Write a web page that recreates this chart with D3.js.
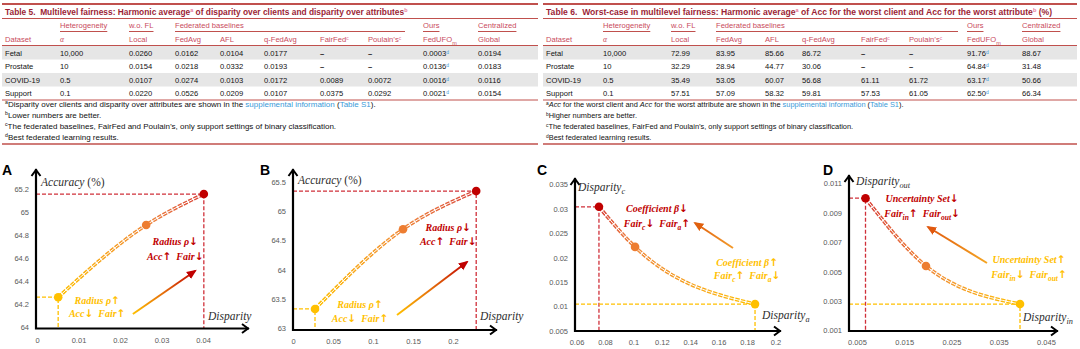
<!DOCTYPE html>
<html>
<head>
<meta charset="utf-8">
<script src="https://cdn.jsdelivr.net/npm/d3@7"></script>
<style>
  body { margin: 0; background: #fff; }
  svg { display: block; }
  text { white-space: pre; }
</style>
</head>
<body>
<svg id="fig" width="1080" height="349"></svg>
<script>
// ---- table data ----
const datasets = ["Fetal", "Prostate", "COVID-19", "Support"]
const alphas = ["10,000", "10", "0.5", "0.1"]
const headCols = ["Dataset", "α", "Local", "FedAvg", "AFL", "q-FedAvg", "FairFed", "Poulain’s", "FedUFO", "Global"]
const headGroups = ["Heterogeneity", "w.o. FL", "Federated baselines", "Ours", "Centralized"]
const groupCols = ["α", "Local", "FedAvg", "FedUFO", "Global"]

const t5Values = [
  ["0.0260", "0.0162", "0.0104", "0.0177", "–", "–", "0.0003", "0.0194"],
  ["0.0154", "0.0218", "0.0332", "0.0193", "–", "–", "0.0136", "0.0183"],
  ["0.0107", "0.0274", "0.0103", "0.0172", "0.0089", "0.0072", "0.0016", "0.0116"],
  ["0.0220", "0.0526", "0.0209", "0.0107", "0.0375", "0.0292", "0.0021", "0.0154"]
]
const t6Values = [
  ["72.99", "83.95", "85.66", "86.72", "–", "–", "91.76", "88.67"],
  ["32.29", "28.94", "44.77", "30.06", "–", "–", "64.84", "31.48"],
  ["35.49", "53.05", "60.07", "56.68", "61.11", "61.72", "63.17", "50.66"],
  ["57.51", "57.09", "58.32", "59.81", "57.53", "61.05", "62.50", "66.34"]
]

const t5Title = [["Table 5.", "b"], "  Multilevel fairness: Harmonic average", ["a", "sup pink"], " of disparity over clients and disparity over attributes", ["b", "sup pink"]]
const t6Title = [["Table 6.", "b"], "  Worst-case in multilevel fairness: Harmonic average", ["a", "sup pink"], " of Acc for the worst client and Acc for the worst attribute", ["b", "sup pink"], " (%)"]

const t5Notes = [
  [["a", "sup"], "Disparity over clients and disparity over attributes are shown in the ", ["supplemental information", "blue"], " (", ["Table S1", "blue"], ")."],
  [["b", "sup"], "Lower numbers are better."],
  [["c", "sup"], "The federated baselines, FairFed and Poulain’s, only support settings of binary classification."],
  [["d", "sup"], "Best federated learning results."]
]
const t6Notes = [
  [["a", "sup"], ["Acc", "ital"], " for the worst client and ", ["Acc", "ital"], " for the worst attribute are shown in the ", ["supplemental information", "blue"], " (", ["Table S1", "blue"], ")."],
  [["b", "sup"], "Higher numbers are better."],
  [["c", "sup"], "The federated baselines, FairFed and Poulain’s, only support settings of binary classification."],
  [["d", "sup"], "Best federated learning results."]
]

// ---- chart data ----
const dispA = [0.0051, 0.0263, 0.0402]
const accA = [64.26, 64.89, 65.16]
const dispB = [0.0275, 0.1375, 0.229]
const accB = [63.33, 64.69, 65.34]
const dispCa = [0.0758, 0.1012, 0.1856]
const dispCc = [0.0304, 0.0222, 0.0105]
const dispDin = [0.0068, 0.0196, 0.0395]
const dispDout = [0.0100, 0.00539, 0.0028]

const xTicksA = [0, 0.01, 0.02, 0.03, 0.04]
const yTicksA = [64, 64.2, 64.4, 64.6, 64.8, 65, 65.2]
const xTicksB = [0, 0.05, 0.1, 0.15, 0.2]
const yTicksB = [63, 63.5, 64, 64.5, 65, 65.5]
const xTicksC = [0.06, 0.08, 0.1, 0.12, 0.14, 0.16, 0.18, 0.2]
const yTicksC = [0.005, 0.01, 0.015, 0.02, 0.025, 0.03, 0.035]
const xTicksD = [0.005, 0.015, 0.025, 0.035, 0.045]
const yTicksD = [0.001, 0.003, 0.005, 0.007, 0.009, 0.011]

const RULE = "#c0504d", HEAD = "#c94a5c", TITLE = "#9c1f36"
const YEL = "#ffc000", ORA = "#ed7d31", RED = "#c00000"
const SANS = "'Liberation Sans', Arial, sans-serif"
const SERIF = "'Liberation Serif', 'Times New Roman', serif"

const svg = d3.select("#fig")
const defs = svg.append("defs")

function rich(t, parts) {
  parts.forEach(p => {
    const [s, k] = typeof p === "string" ? [p, ""] : p
    const ts = t.append("tspan").text(s)
    if (k.includes("sup")) ts.attr("baseline-shift", "super").attr("font-size", "0.65em")
    if (k.includes("sub")) ts.attr("baseline-shift", "-3").attr("font-size", "0.72em")
    if (k.includes("pink")) ts.attr("fill", "#e8799c")
    if (k.includes("blue")) ts.attr("fill", "#3a9bd9")
    if (k.includes("ital")) ts.attr("font-style", "italic")
    if (k === "b") ts.attr("font-weight", "bold")
  })
  return t
}

function fitWidth(t, w) {
  const n = t.node().getComputedTextLength()
  const fs = parseFloat(t.attr("font-size"))
  t.attr("font-size", fs * w / n)
  return fs * w / n
}

function drawTable(cfg) {
  const g = svg.append("g")
  const L = cfg.left, R = cfg.right
  const colX = d3.scaleOrdinal().domain(headCols).range(cfg.cols)
  const rowY = d3.scaleBand().domain(datasets).range([46, 100])
  const fs = 7.6

  g.selectAll("rect.stripe")
    .data(datasets.filter((d, i) => i % 2 === 0))
    .join("rect")
    .attr("x", L).attr("width", R - L)
    .attr("y", d => rowY(d)).attr("height", rowY.bandwidth())
    .attr("fill", "#e6e6e6")

  const rules = [{y: 4, w: 2}, {y: 18.5, w: 1}, {y: 45.5, w: 1}, {y: 100, w: 1}, {y: 144, w: 1.6}]
  g.selectAll("line.rule").data(rules).join("line")
    .attr("x1", L).attr("x2", R).attr("y1", d => d.y).attr("y2", d => d.y)
    .attr("stroke", RULE).attr("stroke-width", d => d.w)

  const title = rich(g.append("text").attr("x", L + 3).attr("y", 15)
    .attr("font-family", SANS).attr("font-size", 8).attr("font-weight", "bold")
    .attr("fill", TITLE), cfg.title)
  fitWidth(title, cfg.titleW)

  // group headers with underlines
  headGroups.forEach((label, i) => {
    const x = colX(groupCols[i])
    const t = g.append("text").attr("x", x).attr("y", 28)
      .attr("font-family", SANS).attr("font-size", fs).attr("fill", HEAD).text(label)
    let x2 = x + t.node().getComputedTextLength()
    if (label === "Federated baselines") x2 = colX("FedUFO") - cfg.fedGap
    g.append("line").attr("x1", x).attr("x2", x2).attr("y1", 31.5).attr("y2", 31.5)
      .attr("stroke", RULE).attr("stroke-width", 1)
  })

  headCols.forEach(c => {
    const t = g.append("text").attr("x", colX(c)).attr("y", 42)
      .attr("font-family", SANS).attr("font-size", fs).attr("fill", HEAD)
    if (c === "FairFed" || c === "Poulain’s") rich(t, [c, ["c", "sup pink"]])
    else if (c === "FedUFO") rich(t, [c, ["m", "sub"]])
    else if (c === "α") t.attr("font-family", SERIF).attr("font-style", "italic").text(c)
    else t.text(c)
  })

  datasets.forEach((d, r) => {
    const cells = [d, alphas[r]].concat(cfg.values[r])
    cells.forEach((v, j) => {
      const t = g.append("text").attr("x", colX(headCols[j]))
        .attr("y", rowY(d) + rowY.bandwidth() / 2 + 2.8)
        .attr("font-family", SANS).attr("font-size", fs).attr("fill", "#111")
      if (headCols[j] === "FedUFO") rich(t, [v, ["d", "sup blue"]])
      else if (v === "–") t.attr("font-weight", "bold").text(v)
      else t.text(v)
    })
  })

  let nfs = 7
  cfg.notes.forEach((n, i) => {
    const t = rich(g.append("text").attr("x", L + 3).attr("y", 107 + i * 11)
      .attr("font-family", SANS).attr("font-size", nfs).attr("fill", "#111"), n)
    if (i === 0) nfs = fitWidth(t, cfg.noteW)
  })
}

drawTable({left: 2, right: 538, cols: [5, 60, 129, 175, 220, 264, 320, 368, 423, 478],
  title: t5Title, titleW: 403, values: t5Values, notes: t5Notes, noteW: 371, fedGap: 18})
drawTable({left: 543, right: 1077, cols: [546, 603, 671, 716, 765, 802, 861, 909, 967, 1022],
  title: t6Title, titleW: 507, values: t6Values, notes: t6Notes, noteW: 358, fedGap: 9})

// ---- charts ----
const panels = [
  {id: "A", xs: dispA, ys: accA, roles: [YEL, ORA, RED], xTicks: xTicksA, yTicks: yTicksA,
   xr: [37, 203], yr: [327, 189.5], axisX: 36, axisY: 328.5, xEnd: 249, yTop: 169, letter: [2, 175],
   ylab: {x: 41, y: 186, parts: [["Accuracy", "ital"], " (%)"]},
   xlab: {x: 208, y: 320, parts: [["Disparity", "ital"]]},
   red: {x: 0.0333, y: 64.72, lines: ["Radius ρ↓", "Acc↑  Fair↓"], dy: 15},
   yel: {x: 0.0145, y: 64.20, lines: ["Radius ρ↑", "Acc↓  Fair↑"], dy: 13},
   arrow: [[0.0231, 64.113], [0.0381, 64.489]], arrowCols: [YEL, RED]},
  {id: "B", xs: dispB, ys: accB, roles: [YEL, ORA, RED], xTicks: xTicksB, yTicks: yTicksB,
   xr: [293, 453], yr: [328.3, 181.7], axisX: 293, axisY: 330, xEnd: 497, yTop: 169, letter: [260, 175],
   ylab: {x: 298, y: 184, parts: [["Accuracy", "ital"], " (%)"]},
   xlab: {x: 480, y: 320, parts: [["Disparity", "ital"]]},
   red: {x: 0.194, y: 64.66, lines: ["Radius ρ↓", "Acc↑  Fair↓"], dy: 14},
   yel: {x: 0.0838, y: 63.35, lines: ["Radius ρ↑", "Acc↓  Fair↑"], dy: 14},
   arrow: [[0.13, 63.227], [0.2175, 64.131]], arrowCols: [YEL, RED]},
  {id: "C", xs: dispCa, ys: dispCc, roles: [RED, ORA, YEL], xTicks: xTicksC, yTicks: yTicksC,
   xr: [576.5, 775.5], yr: [331, 184.3], axisX: 575, axisY: 331, xEnd: 781, yTop: 178, letter: [537, 175],
   ylab: {x: 578, y: 191, parts: [["Disparity", "ital"], ["c", "ital sub"]]},
   xlab: {x: 762, y: 319, parts: [["Disparity", "ital"], ["a", "ital sub"]]},
   red: {x: 0.1166, y: 0.02934, lines: ["Coefficient β↓", "Fair_{c}↓  Fair_{a}↑"], dy: 15},
   yel: {x: 0.18, y: 0.01829, lines: ["Coefficient β↑", "Fair_{c}↑  Fair_{a}↓"], dy: 13},
   arrow: [[0.1701, 0.02197], [0.1434, 0.02709]], arrowCols: ["#f39a2a", "#e0600e"]},
  {id: "D", xs: dispDin, ys: dispDout, roles: [RED, ORA, YEL], xTicks: xTicksD, yTicks: yTicksD,
   xr: [857, 1046], yr: [330.5, 183.5], axisX: 849, axisY: 331, xEnd: 1058, yTop: 175, letter: [823, 175],
   ylab: {x: 856, y: 185, parts: [["Disparity", "ital"], ["out", "ital sub"]]},
   xlab: {x: 1023, y: 321, parts: [["Disparity", "ital"], ["in", "ital sub"]]},
   red: {x: 0.01876, y: 0.00974, lines: ["Uncertainty Set↓", "Fair_{in}↑  Fair_{out}↓"], dy: 15},
   yel: {x: 0.0414, y: 0.00559, lines: ["Uncertainty Set↑", "Fair_{in}↓  Fair_{out}↑"], dy: 15},
   arrow: [[0.03251, 0.005592], [0.02003, 0.008041]], arrowCols: ["#f5a623", "#e0580e"]}
]

const fmt = d => String(+d.toFixed(4))

// text with _{sub} markup; arrows drawn in a heavier sans face
function subText(t, str) {
  str.split(/(_\{[^}]*\}|[↑↓])/).forEach(s => {
    if (!s) return
    if (s.startsWith("_{")) {
      t.append("tspan").text(s.slice(2, -1)).attr("baseline-shift", "-2.5").attr("font-size", "0.75em")
    } else if (s === "↑" || s === "↓") {
      t.append("tspan").text(s).attr("font-family", "'DejaVu Sans', sans-serif")
        .attr("font-style", "normal").attr("font-size", "1.05em")
    } else t.append("tspan").text(s)
  })
}

function arrowMarker(id, color) {
  defs.append("marker").attr("id", id).attr("viewBox", "0 0 10 10")
    .attr("refX", 8).attr("refY", 5).attr("markerUnits", "userSpaceOnUse")
    .attr("markerWidth", 10).attr("markerHeight", 10).attr("orient", "auto")
    .append("path").attr("d", "M0,0.8 L10,5 L0,9.2 Z").attr("fill", color)
}

panels.forEach(p => {
  const g = svg.append("g")
  const x = d3.scaleLinear().domain(d3.extent(p.xTicks)).range(p.xr)
  const y = d3.scaleLinear().domain(d3.extent(p.yTicks)).range(p.yr)
  const pts = p.xs.map((v, i) => ({x: v, y: p.ys[i], c: p.roles[i]}))

  // tick labels through d3 axes, no domain or tick lines
  g.append("g").attr("transform", `translate(${p.axisX - 7},0)`)
    .call(d3.axisLeft(y).tickValues(p.yTicks).tickSize(0).tickFormat(fmt))
    .call(a => a.select(".domain").remove())
    .selectAll("text").attr("font-family", SANS).attr("font-size", 7.5).attr("fill", "#595959").attr("x", 0)
  g.append("g").attr("transform", `translate(0,${p.axisY + 6})`)
    .call(d3.axisBottom(x).tickValues(p.xTicks).tickSize(0).tickFormat(fmt))
    .call(a => a.select(".domain").remove())
    .selectAll("text").attr("font-family", SANS).attr("font-size", 7.5).attr("fill", "#595959")

  // guide lines to the extreme points
  const guide = [pts.find(d => d.c === RED), pts.find(d => d.c === YEL)]
  guide.forEach(d => {
    g.append("path")
      .attr("d", `M${p.axisX},${y(d.y)}H${x(d.x)}V${p.axisY}`)
      .attr("fill", "none").attr("stroke", d.c === RED ? "#d0303a" : "#ffc000")
      .attr("stroke-width", 1.3).attr("stroke-dasharray", "4,2")
  })

  // axes with open arrow heads
  g.append("path").attr("d", `M${p.axisX},${p.axisY + 1}V${p.yTop} M${p.axisX - 1},${p.axisY}H${p.xEnd}`)
    .attr("stroke", "#000").attr("stroke-width", 2.2).attr("fill", "none")
  g.append("path")
    .attr("d", `M${p.axisX - 4.5},${p.yTop + 7}L${p.axisX},${p.yTop + 1}L${p.axisX + 4.5},${p.yTop + 7}` +
               `M${p.xEnd - 7},${p.axisY - 4.5}L${p.xEnd - 1},${p.axisY}L${p.xEnd - 7},${p.axisY + 4.5}`)
    .attr("stroke", "#000").attr("stroke-width", 2).attr("fill", "none")

  // gradient curve
  const x0 = x(pts[0].x), x1 = x(pts[pts.length - 1].x)
  const grad = defs.append("linearGradient").attr("id", "curve" + p.id)
    .attr("gradientUnits", "userSpaceOnUse").attr("x1", x0).attr("x2", x1).attr("y1", 0).attr("y2", 0)
  const curveCol = {[YEL]: "#ffc000", [ORA]: "#f08a3c", [RED]: "#d8403a"}
  pts.forEach(d => grad.append("stop").attr("offset", (x(d.x) - x0) / (x1 - x0)).attr("stop-color", curveCol[d.c]))
  const line = d3.line().x(d => x(d.x)).y(d => y(d.y)).curve(d3.curveMonotoneX)
  g.append("path").attr("d", line(pts)).attr("fill", "none")
    .attr("stroke", `url(#curve${p.id})`).attr("stroke-width", 3.6).attr("stroke-dasharray", "4.5,1.3")
  g.append("path").attr("d", line(pts)).attr("fill", "none")
    .attr("stroke", "#fff").attr("stroke-width", 1)

  g.selectAll("circle").data(pts).join("circle")
    .attr("cx", d => x(d.x)).attr("cy", d => y(d.y)).attr("r", 4.3).attr("fill", d => d.c)

  // trend arrow
  const ag = defs.append("linearGradient").attr("id", "arr" + p.id).attr("gradientUnits", "userSpaceOnUse")
    .attr("x1", x(p.arrow[0][0])).attr("y1", y(p.arrow[0][1]))
    .attr("x2", x(p.arrow[1][0])).attr("y2", y(p.arrow[1][1]))
  ag.append("stop").attr("offset", 0).attr("stop-color", p.arrowCols[0])
  if (p.arrowCols[1] === RED) ag.append("stop").attr("offset", 0.5).attr("stop-color", "#e46c0a")
  ag.append("stop").attr("offset", 1).attr("stop-color", p.arrowCols[1])
  arrowMarker("head" + p.id, p.arrowCols[1])
  g.append("line")
    .attr("x1", x(p.arrow[0][0])).attr("y1", y(p.arrow[0][1]))
    .attr("x2", x(p.arrow[1][0])).attr("y2", y(p.arrow[1][1]))
    .attr("stroke", `url(#arr${p.id})`).attr("stroke-width", 2)
    .attr("marker-end", `url(#head${p.id})`)

  // annotations
  ;[["red", "#c00000"], ["yel", "#ffc000"]].forEach(([k, col]) => {
    const a = p[k]
    a.lines.forEach((s, i) => {
      const t = g.append("text").attr("x", x(a.x)).attr("y", y(a.y) + i * a.dy)
        .attr("text-anchor", "middle").attr("font-family", SERIF).attr("font-style", "italic")
        .attr("font-weight", "bold").attr("font-size", 10).attr("fill", col)
      subText(t, s)
    })
  })

  // axis titles
  ;[p.ylab, p.xlab].forEach(l => {
    rich(g.append("text").attr("x", l.x).attr("y", l.y).attr("font-family", SERIF)
      .attr("font-size", 11.5).attr("fill", "#2e2e2e"), l.parts)
  })

  g.append("text").attr("x", p.letter[0]).attr("y", p.letter[1])
    .attr("font-family", SANS).attr("font-weight", "bold").attr("font-size", 14).text(p.id)
})
</script>
</body>
</html>
